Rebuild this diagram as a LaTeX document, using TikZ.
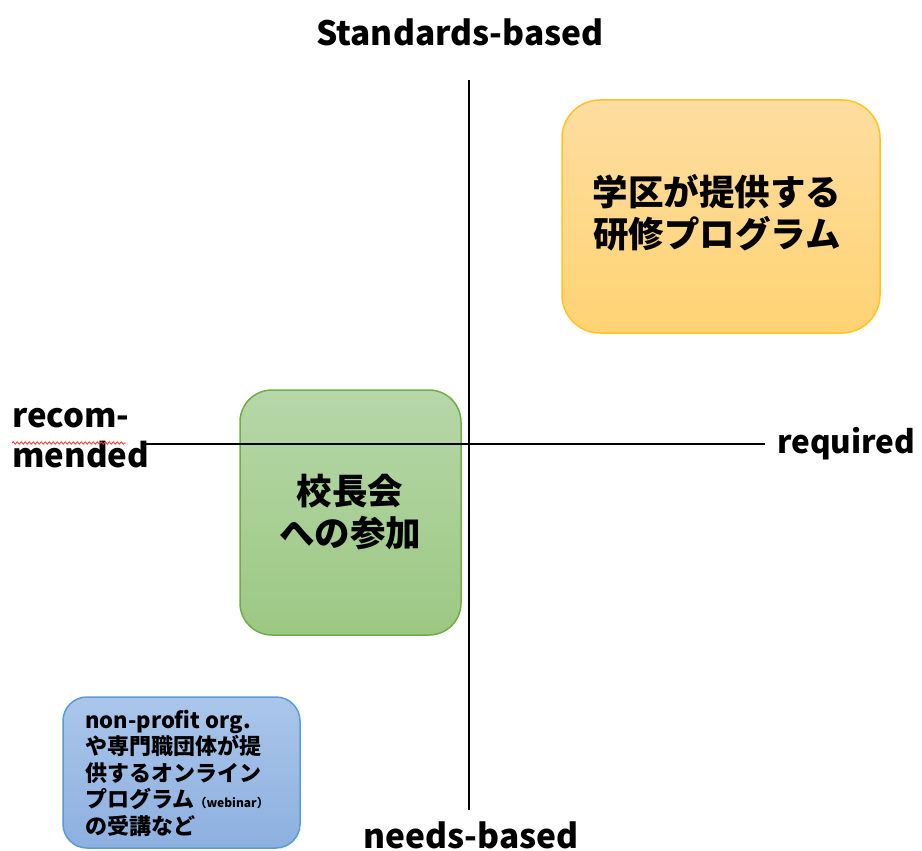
\documentclass[tikz,border=0pt]{standalone}
\usepackage{fontspec}
\setmainfont{Noto Sans CJK JP}
\usetikzlibrary{decorations.pathmorphing}
\tikzset{
  axis/.style={line width=2.8pt, black},
  box/.style={rounded corners=#1, line width=1.5pt, minimum width=0pt},
  lbl/.style={font=\bfseries\fontsize{33.5}{36}\selectfont, inner sep=0pt},
  big/.style={font=\bfseries\fontsize{35.5}{42}\selectfont, align=center, inner sep=0pt},
}
\definecolor{orfill1}{HTML}{FEDDA0}
\definecolor{orfill2}{HTML}{FFD373}
\definecolor{ordraw}{HTML}{FFC526}
\definecolor{grfill1}{HTML}{B6D7A8}
\definecolor{grfill2}{HTML}{9CC883}
\definecolor{grdraw}{HTML}{70AD47}
\definecolor{blfill1}{HTML}{AAC6EA}
\definecolor{blfill2}{HTML}{8DB0E0}
\definecolor{bldraw}{HTML}{5B9BD5}
\begin{document}
\begin{tikzpicture}[x=1pt,y=-1pt]
\useasboundingbox (0,0) rectangle (922,851);
% boxes
\draw[box=38pt, draw=ordraw, top color=orfill1, bottom color=orfill2] (562,100) rectangle (880,333);
\node[big] (org) at (717,213) {学区が提供する\\研修プログラム};
\draw[box=32pt, draw=grdraw, top color=grfill1, bottom color=grfill2] (240,390) rectangle (461,635);
\node[big] (grn) at (350,512) {校長会\\への参加};
\draw[box=24pt, draw=bldraw, top color=blfill1, bottom color=blfill2] (63,697) rectangle (300,848);
\node[font=\bfseries\fontsize{22}{26.5}\selectfont, align=left, inner sep=0pt, anchor=north west] (blu) at (85,710)
  {non-profit org.\\や専門職団体が提\\供するオンライン\\プログラム{\fontsize{12}{12}\selectfont （webinar）}\\の受講など};
% axes
\coordinate (vt) at (469,80);
\coordinate (vb) at (469,810);
\coordinate (hl) at (145,444);
\coordinate (hr) at (765,444);
\draw[axis] (vt) -- (vb);
\draw[axis] (hl) -- (hr);
% labels
\node[lbl] (top) at (460,32) {Standards-based};
\node[lbl] (bot) at (471,835) {needs-based};
\node[lbl, anchor=west, font=\bfseries\fontsize{31.5}{36}\selectfont] (req) at (777,444) {required};
\node[lbl, anchor=north west, align=left, font=\bfseries\fontsize{33}{40}\selectfont] (rec) at (12,408) {recom-\\mended};
\coordinate (w1) at (12,443);
\coordinate (w2) at (126,443);
\draw[red!80, line width=0.8pt, decorate, decoration={snake, amplitude=1.2pt, segment length=4pt}] (w1) -- (w2);
\end{tikzpicture}
\end{document}
